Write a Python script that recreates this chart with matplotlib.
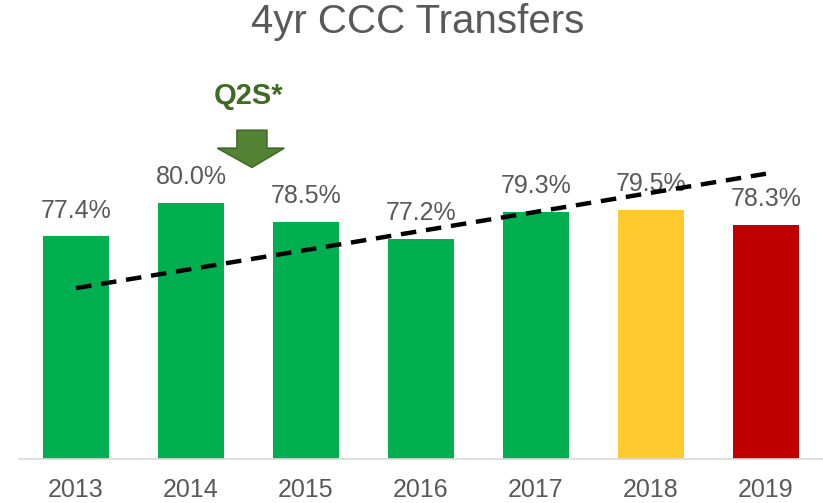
import numpy as np
import matplotlib.pyplot as plt
from matplotlib.patches import Polygon

years = ["2013", "2014", "2015", "2016", "2017", "2018", "2019"]
rates = [77.4, 80.0, 78.5, 77.2, 79.3, 79.5, 78.3]
colors = ["#00B050", "#00B050", "#00B050", "#00B050", "#00B050", "#FFCA2E", "#C00000"]

gray = "#595959"
plt.rcParams['font.family'] = ['Liberation Sans', 'DejaVu Sans']

fig = plt.figure(figsize=(8.23, 5.03), dpi=100)
ax = fig.add_axes([0.0225, 0.0875, 0.978, 0.89])

x = np.arange(len(years))
bars = ax.bar(x, rates, width=0.57, color=colors, zorder=2)
for b, v in zip(bars, rates):
    ax.annotate(f"{v:.1f}%", (b.get_x() + b.get_width() / 2, v), xytext=(0, 10),
                textcoords="offset points", ha="center", va="bottom",
                fontsize=18, color=gray, zorder=3)

ax.set_xlim(-0.5, 6.5)
ax.set_ylim(60, 95)
ax.set_xticks(x)
ax.set_xticklabels(years, fontsize=18, color=gray)
ax.tick_params(axis="x", length=0, pad=14)
ax.set_yticks([])
for s in ["top", "left", "right"]:
    ax.spines[s].set_visible(False)
ax.spines["bottom"].set_color("#D9D9D9")
ax.spines["bottom"].set_linewidth(1.2)

# linear trend, drawn on its own scale like the original chart
slope, icpt = np.polyfit(x, rates, 1)
trend = icpt + slope * x
p0, p6 = 73.36, 82.3   # where the trend ends sit on the primary scale
k = (trend[-1] - trend[0]) / (p6 - p0)
ax2 = ax.twinx()
ax2.set_ylim(trend[0] + (60 - p0) * k, trend[0] + (95 - p0) * k)
ax2.plot(x, trend, color="black", lw=3.2, ls=(0, (3.5, 2.2)), zorder=4)
ax2.axis("off")

# Q2S marker arrow
arrow = Polygon([(1.4, 85.7), (1.66, 85.7), (1.66, 84.3), (1.81, 84.3),
                 (1.53, 82.8), (1.23, 84.3), (1.4, 84.3)],
                closed=True, facecolor="#548235", edgecolor="#3F6B27", lw=1.2, zorder=5)
ax.add_patch(arrow)
ax.text(1.5, 88.4, "Q2S*", ha="center", va="center", fontsize=21,
        fontweight="bold", color="#3D6B22")

fig.suptitle("4yr CCC Transfers", x=0.508, y=0.995, va="top", fontsize=29, color=gray)

fig.savefig("out.png", dpi=100)
